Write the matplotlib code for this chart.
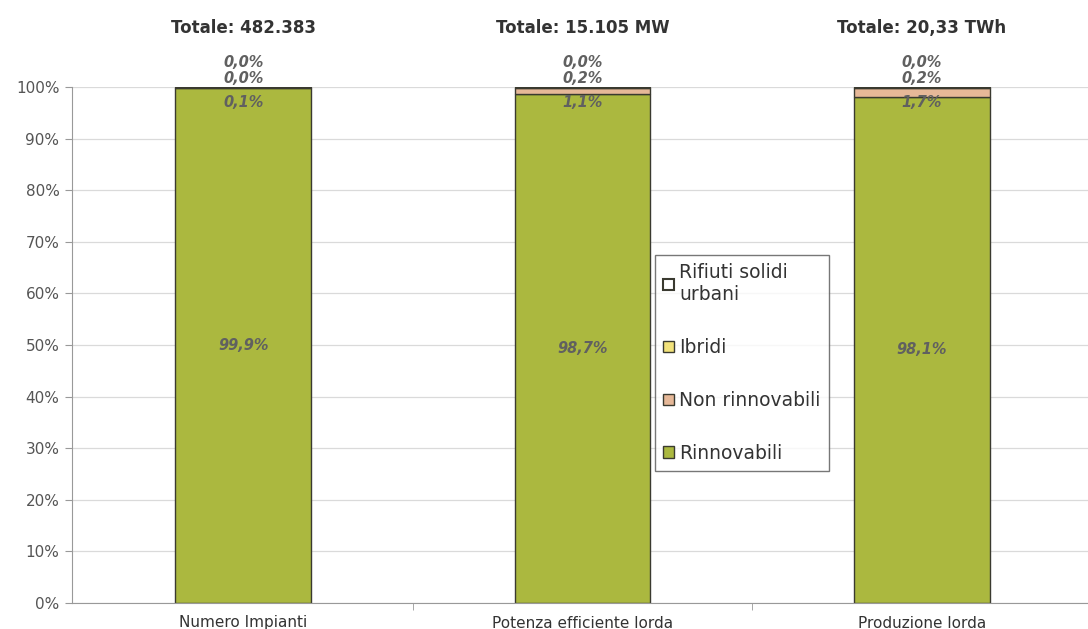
import numpy as np
import matplotlib.pyplot as plt

categories = ['Numero Impianti', 'Potenza efficiente lorda', 'Produzione lorda']
totals = ['Totale: 482.383', 'Totale: 15.105 MW', 'Totale: 20,33 TWh']
rinnovabili = [99.9, 98.7, 98.1]
non_rinnovabili = [0.1, 1.1, 1.7]
ibridi = [0.0, 0.2, 0.2]
rifiuti = [0.0, 0.0, 0.0]

def fmt(v):
    return f'{v:.1f}%'.replace('.', ',')

fig = plt.figure(figsize=(10.88, 6.29), dpi=100)
ax = fig.add_axes([72 / 1088, 1 - 603 / 629, 1 - 72 / 1088, 516 / 629])

x = np.arange(len(categories))
w = 0.4
edge = '#3a3a30'
c_rin, c_non, c_ibr, c_rif = '#abb83f', '#e6b898', '#f2e27a', '#ffffff'

b1 = ax.bar(x, rinnovabili, w, color=c_rin, edgecolor=edge, linewidth=1.0, label='Rinnovabili')
b2 = ax.bar(x, non_rinnovabili, w, bottom=rinnovabili, color=c_non, edgecolor=edge,
            linewidth=1.0, label='Non rinnovabili')
bot3 = np.array(rinnovabili) + np.array(non_rinnovabili)
b3 = ax.bar(x, ibridi, w, bottom=bot3, color=c_ibr, edgecolor=edge, linewidth=1.0, label='Ibridi')
bot4 = bot3 + np.array(ibridi)
b4 = ax.bar(x, rifiuti, w, bottom=bot4, color=c_rif, edgecolor=edge, linewidth=1.5,
            label='Rifiuti solidi\nurbani')

lab_kw = dict(ha='center', va='center', style='italic', fontweight='bold',
              color='#606060', fontsize=10.5)
for i in range(len(categories)):
    ax.text(x[i], rinnovabili[i] / 2, fmt(rinnovabili[i]), **lab_kw)
    ax.text(x[i], 96.9, fmt(non_rinnovabili[i]), **lab_kw)
    ax.text(x[i], 101.6, fmt(ibridi[i]), **lab_kw)
    ax.text(x[i], 104.7, fmt(rifiuti[i]), **lab_kw)
    ax.text(x[i], 111.4, totals[i], ha='center', va='center', fontweight='bold',
            color='#333333', fontsize=12)

ax.set_ylim(0, 100)
ax.set_xlim(-0.505, 2.49)
ax.set_yticks(np.arange(0, 101, 10))
ax.set_yticklabels([f'{v}%' for v in range(0, 101, 10)], fontsize=11, color='#555555')
ax.set_xticks(x)
ax.set_xticklabels(categories, fontsize=11, color='#333333',
                   family=['Liberation Sans Narrow', 'DejaVu Sans Condensed', 'DejaVu Sans'])
ax.set_xticks([0.5, 1.5], minor=True)
ax.tick_params(axis='x', which='major', length=0, pad=9)
ax.tick_params(axis='x', which='minor', length=5, color='#999999', direction='out')
ax.tick_params(axis='y', length=5, color='#999999', pad=4)
ax.grid(axis='y', color='#dadada', linewidth=0.9)
ax.set_axisbelow(True)
for s in ['top', 'right']:
    ax.spines[s].set_visible(False)
for s in ['left', 'bottom']:
    ax.spines[s].set_color('#999999')

handles = [b4, b3, b2, b1]
leg = ax.legend(handles, [h.get_label() for h in handles], loc='upper left',
                bbox_to_anchor=((655 - 72) / 1016, (603 - 255) / 516),
                prop={'size': 13.5}, frameon=True, fancybox=False, edgecolor='#555555',
                handlelength=0.55, handleheight=0.55, handletextpad=0.3,
                labelspacing=1.8, borderpad=0.45, labelcolor='#333333',
                borderaxespad=0)
leg.get_frame().set_linewidth(1.0)

fig.savefig('out.png', dpi=100)
